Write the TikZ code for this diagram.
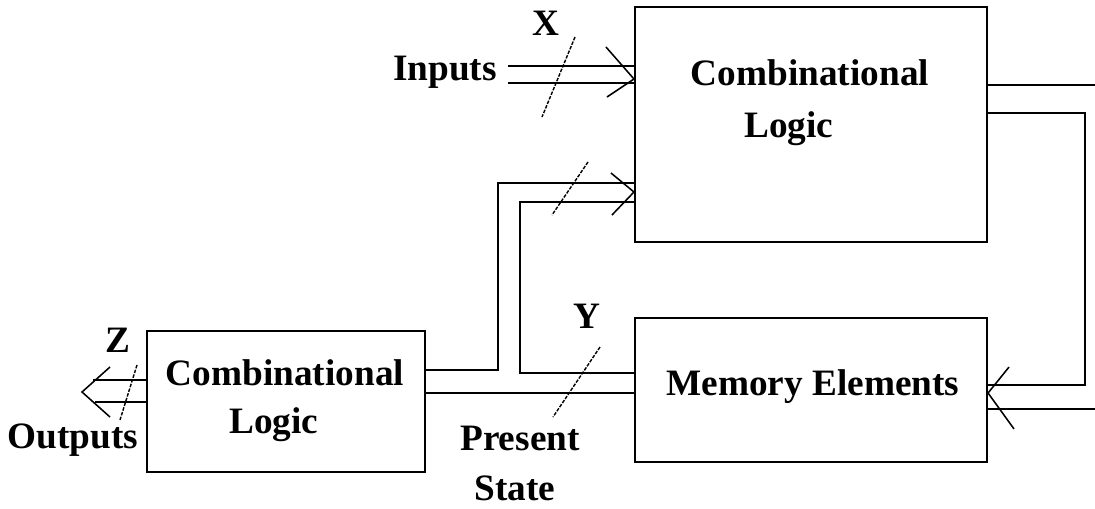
\documentclass[tikz,border=0pt]{standalone}
\usepackage{fontspec}
\setmainfont{Liberation Serif}
\usepackage{tikz}
\usetikzlibrary{calc}

\tikzset{
  blk/.style={draw, line width=1.4pt, inner sep=0pt},
  txt/.style={font=\fontsize{26.5}{35.5}\selectfont\bfseries, inner sep=0pt, anchor=base},
  wire/.style={line width=1.4pt},
  slash/.style={line width=1pt, dash pattern=on 2.5pt off 1pt},
  head/.style={line width=1.1pt},
}

\begin{document}
\begin{tikzpicture}[x=0.025cm, y=-0.025cm]
    \useasboundingbox (0,0) rectangle (1095,508);
    \node[blk, minimum width=8.8cm, minimum height=5.875cm] (CL1) at (811,124.5) {};
    \node[blk, minimum width=8.8cm, minimum height=3.6cm]   (ME)  at (811,390)   {};
    \node[blk, minimum width=6.95cm, minimum height=3.525cm] (CL2) at (286,401.5) {};
    \node[txt] (CL1a) at (810,85)  {Combinational};
    \node[txt] (CL1b) at (789,137) {Logic};
    \node[txt] (MEa)  at (813,395) {Memory Elements};
    \node[txt] (CL2a) at (285,385) {Combinational};
    \node[txt] (CL2b) at (274,433) {Logic};
    \node[txt] (In)   at (445,80)  {Inputs};
    \node[txt] (Out)  at (73,448)  {Outputs};
    \node[txt] (PS1)  at (520,450) {Present};
    \node[txt] (PS2)  at (515,500) {State};
    \node[txt] (X)    at (546,35)  {X};
    \node[txt] (Y)    at (587,328) {Y};
    \node[txt] (Z)    at (118,352) {Z};
    \coordinate (in1) at (508,66);
    \coordinate (in2) at (508,83);
    \coordinate (ns1) at (1095,85);
    \coordinate (ns2) at (1085,113);
    \coordinate (ns3) at (1095,409);
    \coordinate (z1)  at (93,380);
    \coordinate (z2)  at (95,402);
    \coordinate (tipX) at (CL1.west |- 0,79);
    \coordinate (tipY) at (CL1.west |- 0,192);
    \coordinate (tipM) at (ME.east |- 0,393);
    \coordinate (tipZ) at (82,392);
    \draw[wire] (in1) -- (in1 -| CL1.west);
    \draw[wire] (in2) -- (in2 -| CL1.west);
    \draw[head] ($(tipX)+(-28,-32)$) -- (tipX) -- ($(tipX)+(-27,18)$);
    \draw[slash] (575,37) -- (542,117);
    \draw[wire] (CL1.east |- ns1) -- (ns1);
    \draw[wire] (CL1.east |- ns2) -- (ns2) -- (1085,385) -- (ME.east |- 0,385);
    \draw[wire] (ns3) -- (ME.east |- ns3);
    \draw[head] ($(tipM)+(21,-26)$) -- (tipM) -- ($(tipM)+(26,36)$);
    \draw[wire] (ME.west |- 0,373) -- (520,373) -- (520,202) -- (CL1.west |- 0,202);
    \draw[wire] (ME.west |- 0,393) -- (CL2.east |- 0,393);
    \draw[wire] (CL2.east |- 0,370) -- (498,370) -- (498,183) -- (CL1.west |- 0,183);
    \draw[head] ($(tipY)+(-23,-19)$) -- (tipY) -- ($(tipY)+(-22,23)$);
    \draw[slash] (588,162) -- (552,215);
    \draw[slash] (600,347) -- (553,417);
    \draw[wire] (CL2.west |- z1) -- (z1);
    \draw[wire] (CL2.west |- z2) -- (z2);
    \draw[head] ($(tipZ)+(28,-25)$) -- (tipZ) -- ($(tipZ)+(28,25)$);
    \draw[slash] (137,365) -- (120,420);
\end{tikzpicture}
\end{document}
